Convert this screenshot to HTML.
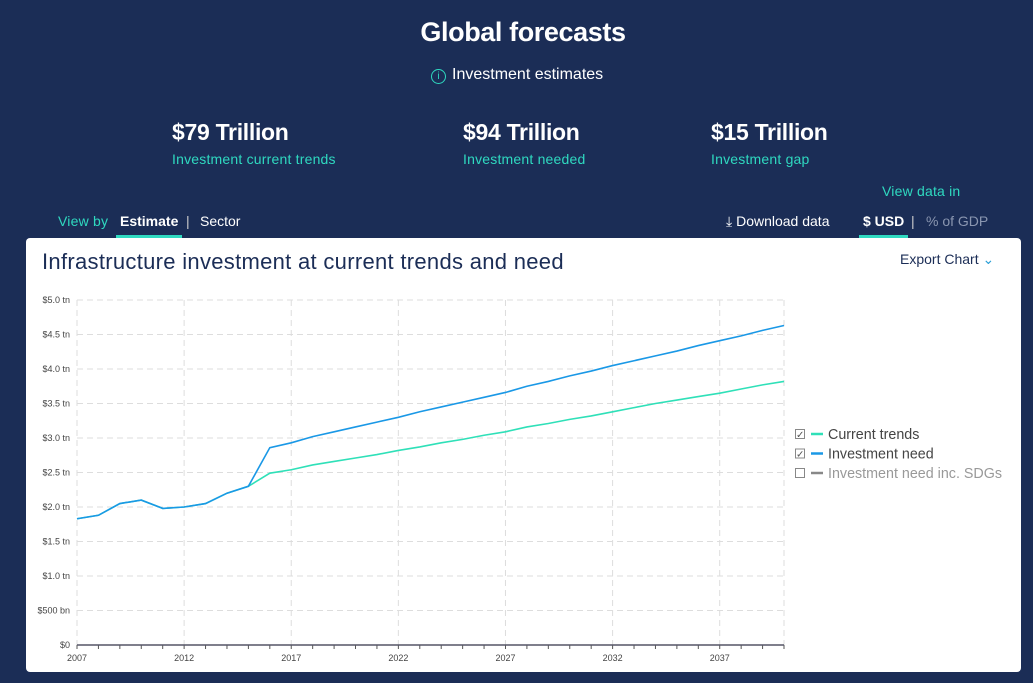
<!DOCTYPE html>
<html><head><meta charset="utf-8">
<style>
body{margin:0;width:1033px;height:683px;background:#1b2d56;font-family:"Liberation Sans",sans-serif;position:relative;overflow:hidden;color:#fff}
.a{position:absolute;white-space:nowrap}
.big{font-size:23px;font-weight:bold;letter-spacing:-0.3px}
.sub{font-size:14px;color:#2fd9c0;letter-spacing:0.2px}
.tab{font-size:14px}
</style></head><body>
<div class="a" style="left:0;width:1046px;text-align:center;top:17px;font-size:27px;font-weight:bold;letter-spacing:-0.4px">Global forecasts</div>
<div class="a" style="left:431px;top:66px;font-size:16px"><span style="display:inline-block;width:13px;height:13px;border:1.5px solid #2fd9c0;border-radius:50%;color:#2fd9c0;font-size:10px;text-align:center;line-height:13px;margin-right:6px">i</span>Investment estimates</div>
<div class="a big" style="left:172px;top:119px">$79 Trillion</div>
<div class="a sub" style="left:172px;top:151px">Investment current trends</div>
<div class="a big" style="left:463px;top:119px">$94 Trillion</div>
<div class="a sub" style="left:463px;top:151px">Investment needed</div>
<div class="a big" style="left:711px;top:119px">$15 Trillion</div>
<div class="a sub" style="left:711px;top:151px">Investment gap</div>
<div class="a sub" style="left:882px;top:183px">View data in</div>
<div class="a sub" style="left:58px;top:213px">View by</div>
<div class="a tab" style="left:116px;top:213px;font-weight:bold;padding:0 4px 6px;border-bottom:3px solid #2fd9c0">Estimate</div>
<div class="a tab" style="left:186px;top:213px;color:#ccc">|</div>
<div class="a tab" style="left:200px;top:213px">Sector</div>
<div class="a tab" style="left:726px;top:213px">⤓ Download data</div>
<div class="a tab" style="left:859px;top:213px;font-weight:bold;padding:0 4px 6px;border-bottom:3px solid #2fd9c0">$ USD</div>
<div class="a tab" style="left:911px;top:213px;color:#ccc">|</div>
<div class="a tab" style="left:926px;top:213px;color:#8a96b0">% of GDP</div>
<div class="a" style="left:26px;top:238px;width:995px;height:434px;background:#fff;border-radius:4px"></div>
<div class="a" style="left:42px;top:249px;font-size:22px;letter-spacing:0.3px;color:#1b2d56">Infrastructure investment at current trends and need</div>
<div class="a" style="left:900px;top:251px;font-size:14px;color:#1b2d56">Export Chart <span style="color:#2a9fd6">⌄</span></div>
<svg class="a" style="left:0;top:0" width="1033" height="683" id="svg"></svg>
<script>
const years=[];for(let y=2007;y<=2040;y++)years.push(y);
const currentTrends=[1.83,1.88,2.05,2.10,1.98,2.00,2.05,2.20,2.30,2.49,2.54,2.61,2.66,2.71,2.76,2.82,2.87,2.93,2.98,3.04,3.09,3.16,3.21,3.27,3.32,3.38,3.44,3.50,3.55,3.60,3.65,3.71,3.77,3.82];
const investmentNeed=[1.83,1.88,2.05,2.10,1.98,2.00,2.05,2.20,2.30,2.86,2.93,3.02,3.09,3.16,3.23,3.30,3.38,3.45,3.52,3.59,3.66,3.75,3.82,3.90,3.97,4.05,4.12,4.19,4.26,4.34,4.41,4.48,4.56,4.63];
const yTicks=[0,0.5,1,1.5,2,2.5,3,3.5,4,4.5,5];
const yLabels=["$0","$500 bn","$1.0 tn","$1.5 tn","$2.0 tn","$2.5 tn","$3.0 tn","$3.5 tn","$4.0 tn","$4.5 tn","$5.0 tn"];
const xLabelYears=[2007,2012,2017,2022,2027,2032,2037];
const X=y=>77+(y-2007)*(784-77)/33;
const Y=v=>645-v*69;
const svg=document.getElementById('svg');const NS='http://www.w3.org/2000/svg';
function mk(t,a){const e=document.createElementNS(NS,t);for(const k in a)e.setAttribute(k,a[k]);svg.appendChild(e);return e;}
yTicks.forEach((v,i)=>{
 if(v>0){const g=mk('line',{x1:77,x2:784,y1:Y(v),y2:Y(v),stroke:'#ddd','stroke-dasharray':'6,4'});
 
 }
 const t=mk('text',{x:70,y:Y(v)+3,'text-anchor':'end','font-size':9,fill:'#444','font-family':'Liberation Sans'});t.textContent=yLabels[i];
 
 
});
xLabelYears.forEach(y=>{
 const g=mk('line',{x1:X(y),x2:X(y),y1:300,y2:645,stroke:'#ddd','stroke-dasharray':'6,4'});
 
 
 const t=mk('text',{x:X(y),y:661,'text-anchor':'middle','font-size':9,fill:'#444','font-family':'Liberation Sans'});t.textContent=y;
 
 
});
mk('line',{x1:X(2040),x2:X(2040),y1:300,y2:645,stroke:'#ddd','stroke-dasharray':'6,4'});
years.forEach(y=>{const t=mk('line',{x1:X(y),x2:X(y),y1:645,y2:649,stroke:'#555'});
 
 });
const ax=mk('line',{x1:77,x2:784,y1:645,y2:645,stroke:'#556','stroke-width':1.5});


function line(vals,col,name){const p=mk('polyline',{points:vals.map((v,i)=>X(years[i])+','+Y(v)).join(' '),fill:'none',stroke:col,'stroke-width':1.6});
 
 }
line(currentTrends,'#2fe0b8','current-trends-line');
line(investmentNeed,'#1a98e6','investment-need-line');
const leg=[["Current trends","#2fe0b8",true,"#444"],["Investment need","#1a98e6",true,"#444"],["Investment need inc. SDGs","#888",false,"#999"]];
leg.forEach((l,i)=>{const y=434+i*19.5;
 const b=mk('rect',{x:795.5,y:y-4.5,width:9,height:9,fill:'#fff',stroke:'#888'});
 
 
 if(l[2]){const c=mk('text',{x:796,y:y+4,'font-size':10,fill:'#555'});c.textContent='✓';}
 mk('line',{x1:811,x2:823,y1:y,y2:y,stroke:l[1],'stroke-width':2.5});
 const t=mk('text',{x:828,y:y+5,'font-size':14.3,fill:l[3],'font-family':'Liberation Sans'});t.textContent=l[0];
 
 
});
</script>
</body></html>
